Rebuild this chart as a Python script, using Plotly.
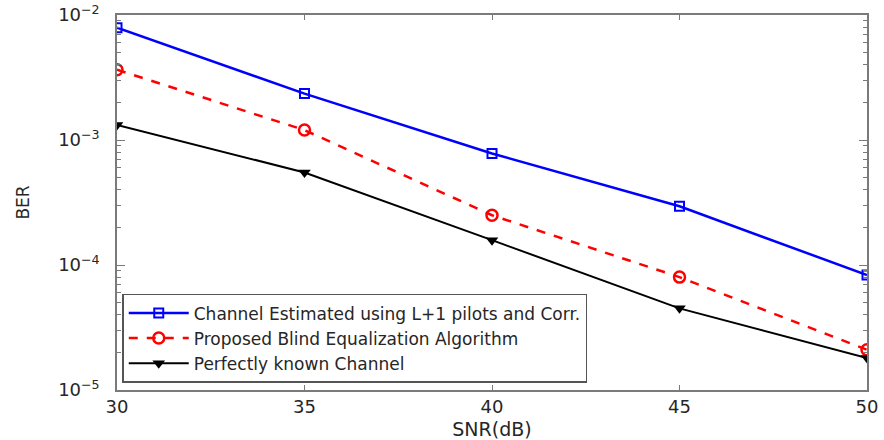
import plotly.graph_objects as go

snr = [30, 35, 40, 45, 50]
ber_est = [7.9e-3, 2.35e-3, 7.8e-4, 2.95e-4, 8.3e-5]
ber_blind = [3.65e-3, 1.2e-3, 2.5e-4, 8.0e-5, 2.1e-5]
ber_known = [1.32e-3, 5.5e-4, 1.58e-4, 4.5e-5, 1.8e-5]
names = ["Channel Estimated using L+1 pilots and Corr.",
         "Proposed Blind Equalization Algorithm",
         "Perfectly known Channel"]
y_tickvals = [1e-5, 1e-4, 1e-3, 1e-2]
y_ticktext = ["10<sup>−5</sup>", "10<sup>−4</sup>", "10<sup>−3</sup>", "10<sup>−2</sup>"]
y_minor = [k * 10**e for e in (-5, -4, -3) for k in range(2, 10)]
x_ticks = [30, 35, 40, 45, 50]

FONT = "DejaVu Sans, Liberation Sans, Arial"
TXT = "#262626"
AX = "#7a7a7a"

fig = go.Figure()
fig.add_trace(go.Scatter(x=snr, y=ber_est, name=names[0], mode="lines+markers",
                         line=dict(color="#0000ff", width=2.5),
                         marker=dict(symbol="square-open", size=9, color="#0000ff", line=dict(width=2))))
fig.add_trace(go.Scatter(x=snr, y=ber_blind, name=names[1], mode="lines+markers",
                         line=dict(color="#ff0000", width=2.5, dash="dash"),
                         marker=dict(symbol="circle-open", size=11, color="#ff0000", line=dict(width=2.5))))
fig.add_trace(go.Scatter(x=snr, y=ber_known, name=names[2], mode="lines+markers",
                         line=dict(color="#000000", width=2),
                         marker=dict(symbol="triangle-down", size=11, color="#000000")))
# helper trace so the minor-tick overlay axis is drawn
fig.add_trace(go.Scatter(x=snr, y=ber_known, yaxis="y2", mode="none", showlegend=False, hoverinfo="skip"))

axis_common = dict(showgrid=False, zeroline=False, showline=True, linecolor=AX, linewidth=1.5,
                   mirror="ticks", ticks="inside", tickcolor=AX, tickwidth=1.2, automargin=False,
                   tickfont=dict(family=FONT, size=18, color=TXT))
fig.update_layout(
    xaxis=dict(range=[30, 50], tickvals=x_ticks, ticklen=5,
               title=dict(text="SNR(dB)", font=dict(family=FONT, size=19, color=TXT), standoff=6),
               **axis_common),
    yaxis=dict(type="log", range=[-5, -2], tickvals=y_tickvals, ticktext=y_ticktext, ticklen=8,
               ticklabelstandoff=12,
               title=dict(text="BER", font=dict(family=FONT, size=17, color=TXT), standoff=24),
               **axis_common),
    yaxis2=dict(type="log", range=[-5, -2], overlaying="y", side="left", tickvals=y_minor,
                ticks="inside", ticklen=4, tickcolor=AX, tickwidth=1.2, showticklabels=False, showgrid=False,
                zeroline=False, showline=False, mirror="ticks", automargin=False),
    width=884, height=440,
    margin=dict(l=117, r=17, t=15, b=50, autoexpand=False),
    plot_bgcolor="white", paper_bgcolor="white",
    font=dict(family=FONT, color=TXT),
    legend=dict(x=0.007, y=0.019, xanchor="left", yanchor="bottom",
                bgcolor="white", bordercolor="#555555", borderwidth=1.5,
                font=dict(size=17, family=FONT, color=TXT),
                tracegroupgap=0, itemwidth=60),
)

fig.write_html("out.html", config={"displayModeBar": False},
               post_script="document.body.style.margin='0';document.body.style.overflow='hidden';")
